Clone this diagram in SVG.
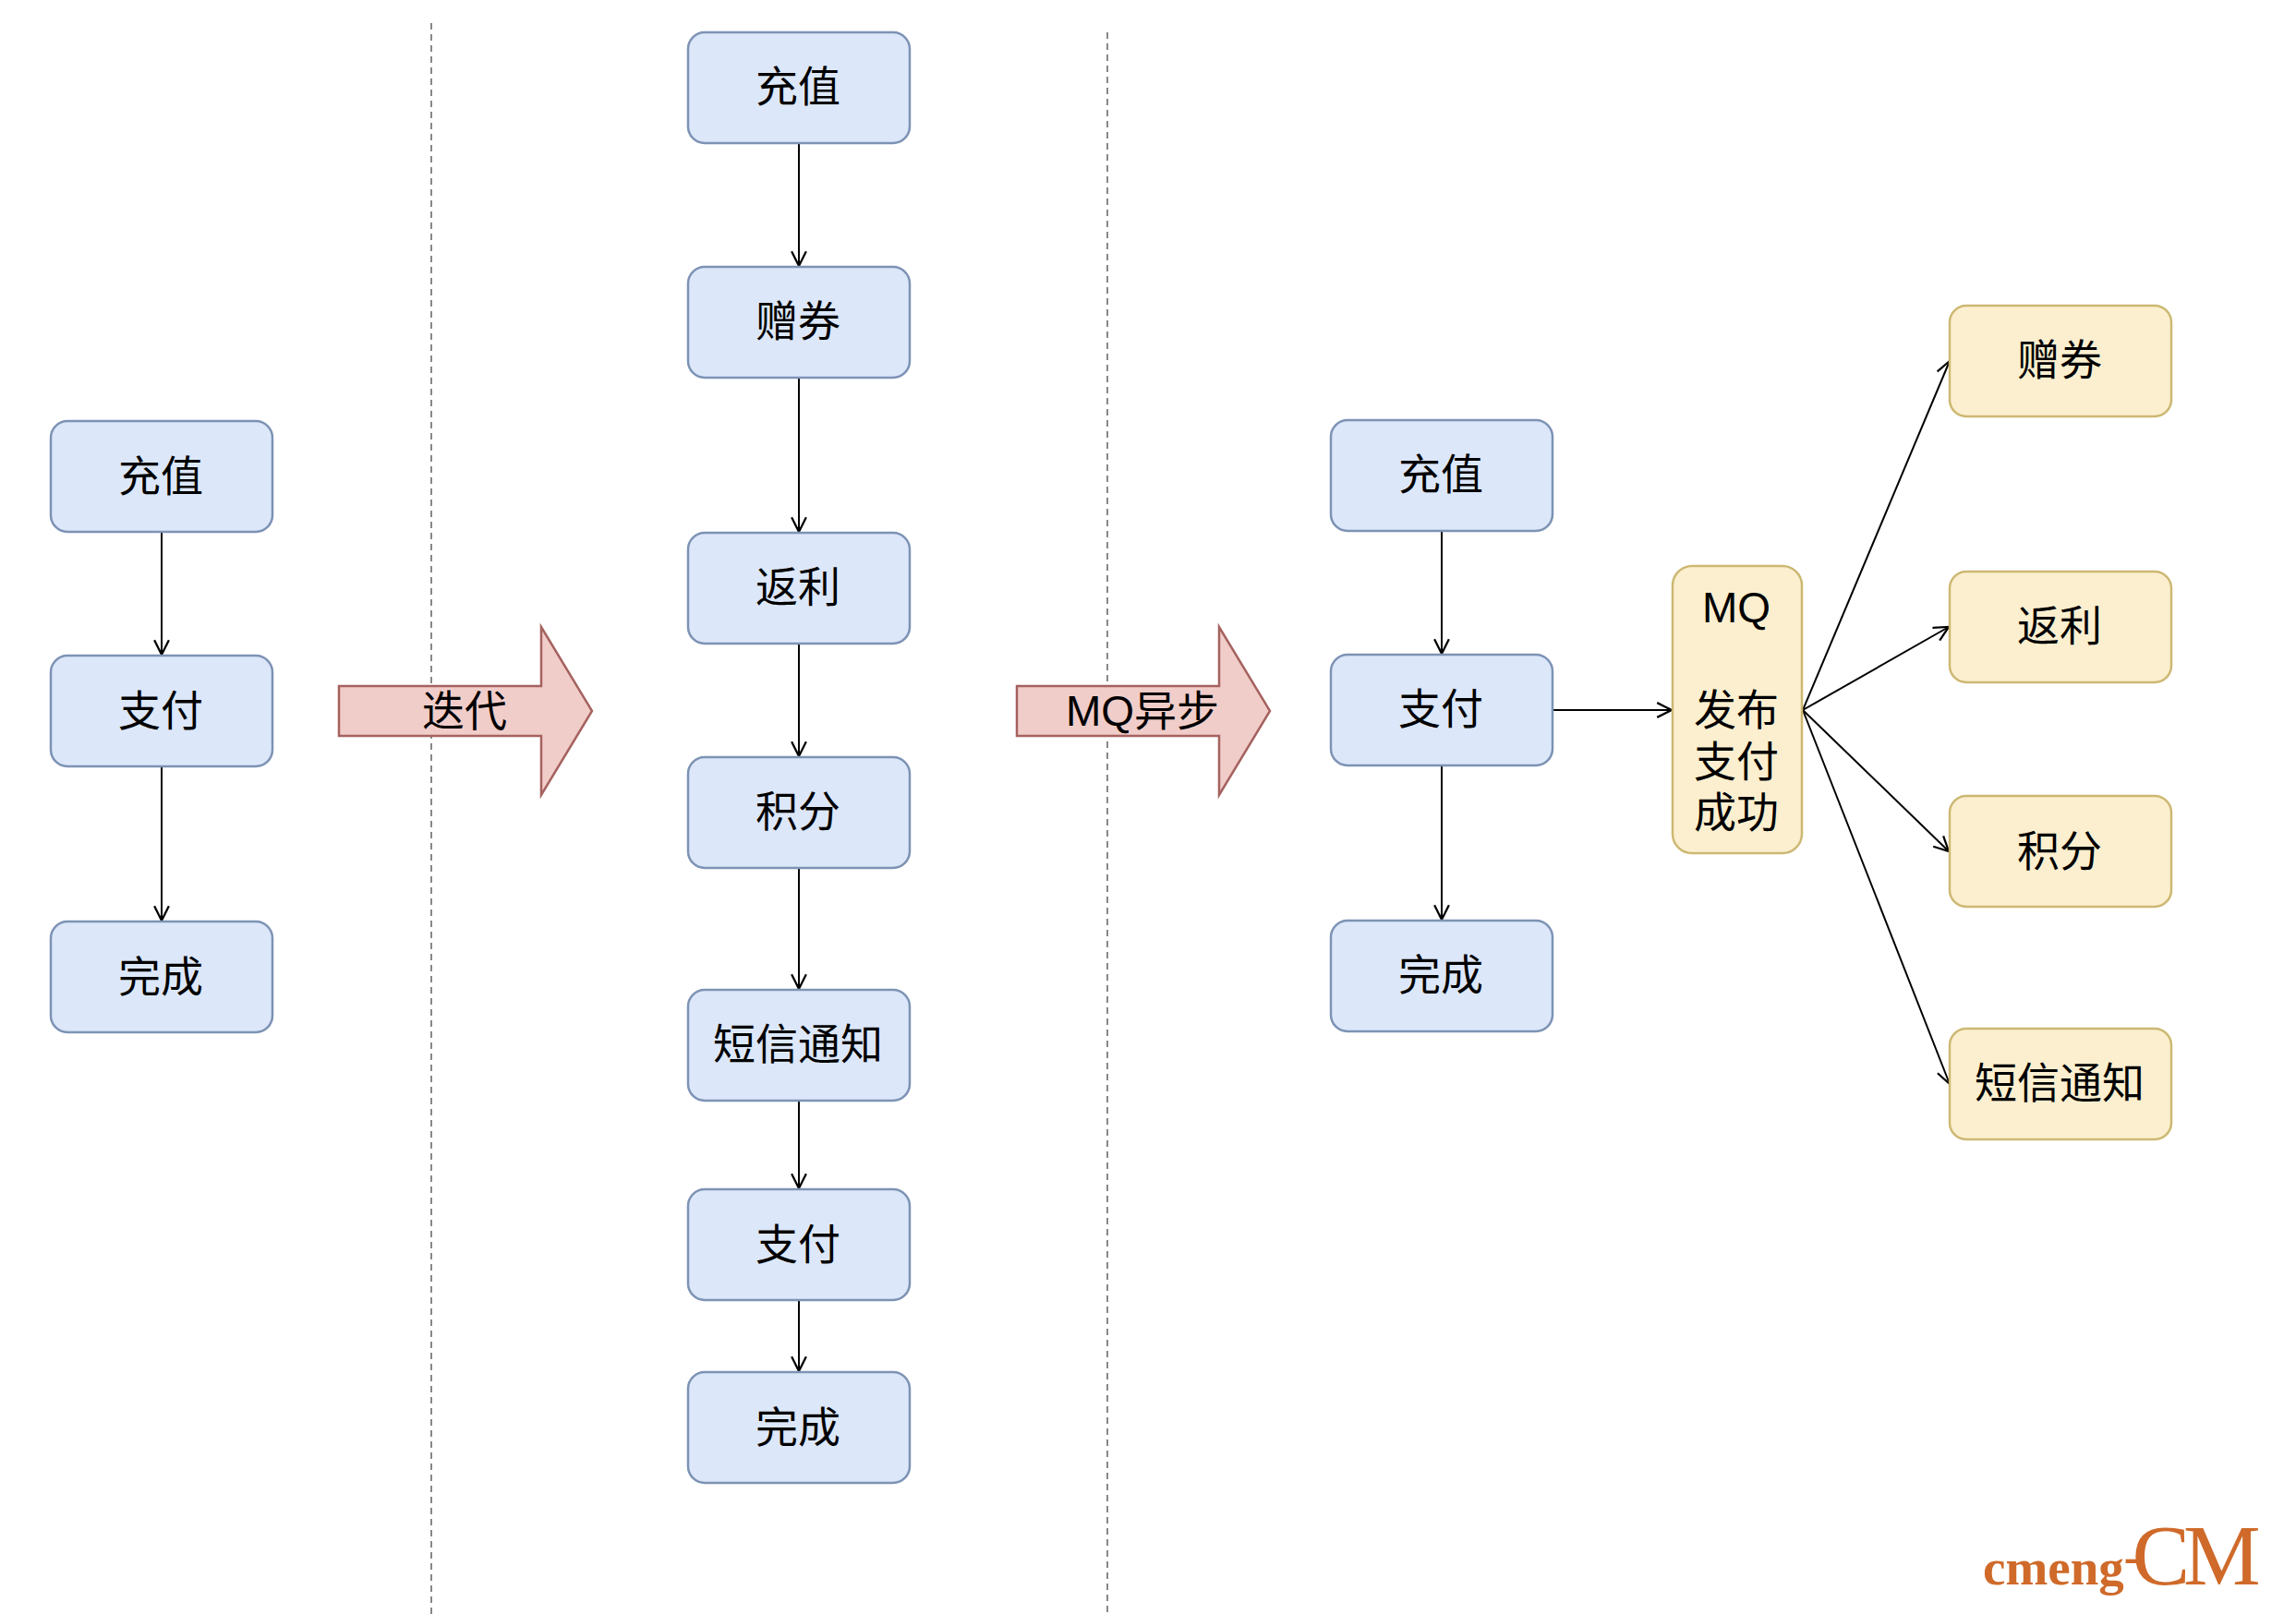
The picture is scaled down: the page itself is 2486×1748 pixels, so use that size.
<svg xmlns="http://www.w3.org/2000/svg" width="2486" height="1748" viewBox="0 0 2486 1748">
<style>
text{font-family:"Liberation Sans","Noto Sans CJK SC",sans-serif;font-size:46px;fill:#000;text-anchor:middle}
.b{fill:#dce7f9;stroke:#7d93b5;stroke-width:2.5}
.y{fill:#fbefcf;stroke:#cdb873;stroke-width:2.5}
.a{fill:#f1cdc9;stroke:#a5625f;stroke-width:2.5}
.d{stroke:#888;stroke-width:2;stroke-dasharray:7 5;fill:none}
.c{stroke:#000;stroke-width:2;fill:none;marker-end:url(#m)}
text.w{font-family:"Liberation Serif",serif;fill:#cf6a2a;text-anchor:start;font-size:55px}
</style>
<defs>
<marker id="m" markerUnits="userSpaceOnUse" markerWidth="18" markerHeight="18" refX="15" refY="8" orient="auto" viewBox="0 0 16 16"><path d="M1 1L15 8L1 15" fill="none" stroke="#000" stroke-width="2"/></marker>
</defs>
<g id="dividers">
<path class="d" d="M467 25V1748"/>
<path class="d" d="M1199 35V1748"/>
</g>
<g id="connectors">
<path class="c" d="M175 576V709"/>
<path class="c" d="M175 830V997"/>
<path class="c" d="M865 155V288"/>
<path class="c" d="M865 409V576"/>
<path class="c" d="M865 697V819"/>
<path class="c" d="M865 940V1071"/>
<path class="c" d="M865 1192V1287"/>
<path class="c" d="M865 1408V1485"/>
<path class="c" d="M1561 575V708"/>
<path class="c" d="M1561 829V996"/>
<path class="c" d="M1681 769H1810"/>
<path class="c" d="M1952 769L2111 391"/>
<path class="c" d="M1952 769L2110 679"/>
<path class="c" d="M1952 769L2110 922"/>
<path class="c" d="M1952 769L2111 1174"/>
</g>
<g id="arrow1"><path class="a" d="M367 743H586V679L641 770L586 861V797H367Z"/><text x="503" y="786">迭代</text></g>
<g id="arrow2"><path class="a" d="M1101 743H1320V679L1375 770L1320 861V797H1101Z"/><text x="1237" y="786">MQ异步</text></g>
<g id="n1"><rect class="b" x="55" y="456" width="240" height="120" rx="18"/><text x="174" y="532">充值</text></g>
<g id="n2"><rect class="b" x="55" y="710" width="240" height="120" rx="18"/><text x="174" y="786">支付</text></g>
<g id="n3"><rect class="b" x="55" y="998" width="240" height="120" rx="18"/><text x="174" y="1074">完成</text></g>
<g id="n4"><rect class="b" x="745" y="35" width="240" height="120" rx="18"/><text x="864" y="110">充值</text></g>
<g id="n5"><rect class="b" x="745" y="289" width="240" height="120" rx="18"/><text x="864" y="364">赠券</text></g>
<g id="n6"><rect class="b" x="745" y="577" width="240" height="120" rx="18"/><text x="864" y="652">返利</text></g>
<g id="n7"><rect class="b" x="745" y="820" width="240" height="120" rx="18"/><text x="864" y="895">积分</text></g>
<g id="n8"><rect class="b" x="745" y="1072" width="240" height="120" rx="18"/><text x="864" y="1147">短信通知</text></g>
<g id="n9"><rect class="b" x="745" y="1288" width="240" height="120" rx="18"/><text x="864" y="1364">支付</text></g>
<g id="n10"><rect class="b" x="745" y="1486" width="240" height="120" rx="18"/><text x="864" y="1562">完成</text></g>
<g id="n11"><rect class="b" x="1441" y="455" width="240" height="120" rx="18"/><text x="1560" y="530">充值</text></g>
<g id="n12"><rect class="b" x="1441" y="709" width="240" height="120" rx="18"/><text x="1560" y="784">支付</text></g>
<g id="n13"><rect class="b" x="1441" y="997" width="240" height="120" rx="18"/><text x="1560" y="1072">完成</text></g>
<g id="mq"><rect class="y" x="1811" y="613" width="140" height="311" rx="21"/>
<text x="1880" y="674">MQ</text><text x="1880" y="785">发布</text><text x="1880" y="841">支付</text><text x="1880" y="896">成功</text></g>
<g id="y1"><rect class="y" x="2111" y="331" width="240" height="120" rx="18"/><text x="2230" y="406">赠券</text></g>
<g id="y2"><rect class="y" x="2111" y="619" width="240" height="120" rx="18"/><text x="2230" y="694">返利</text></g>
<g id="y3"><rect class="y" x="2111" y="862" width="240" height="120" rx="18"/><text x="2230" y="938">积分</text></g>
<g id="y4"><rect class="y" x="2111" y="1114" width="240" height="120" rx="18"/><text x="2230" y="1189">短信通知</text></g>
<g id="watermark"><text class="w" x="2147" y="1716"><tspan font-weight="bold">cmeng</tspan><tspan font-weight="bold" font-size="50" dy="-13" letter-spacing="-8">-</tspan><tspan font-size="94" dy="13" letter-spacing="-7">CM</tspan></text></g>
</svg>
